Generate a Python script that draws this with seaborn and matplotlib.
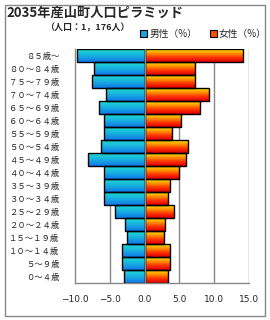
import numpy as np
import pandas as pd
import matplotlib
matplotlib.use("Agg")
import matplotlib.pyplot as plt
from matplotlib.colors import LinearSegmentedColormap
from matplotlib.patches import Patch, Rectangle
import seaborn as sns

# Data
ages = ["８５歳～", "８０～８４歳", "７５～７９歳", "７０～７４歳", "６５～６９歳",
        "６０～６４歳", "５５～５９歳", "５０～５４歳", "４５～４９歳", "４０～４４歳",
        "３５～３９歳", "３０～３４歳", "２５～２９歳", "２０～２４歳", "１５～１９歳",
        "１０～１４歳", "５～９歳", "０～４歳"]
male = [9.7, 7.3, 7.5, 5.6, 6.6, 5.9, 5.9, 6.2, 8.2, 5.8,
        5.8, 5.8, 4.2, 2.8, 2.5, 3.3, 3.3, 3.0]
female = [14.2, 7.2, 7.2, 9.2, 7.9, 5.3, 3.9, 6.3, 5.9, 4.9,
          3.6, 3.3, 4.2, 2.9, 2.8, 3.6, 3.6, 3.3]
xticks = [-10, -5, 0, 5, 10, 15]
xtick_labels = ["−10.0", "−5.0", "0.0", "5.0", "10.0", "15.0"]

title = "2035年産山町人口ピラミッド"
subtitle = "（人口：1，176人）"
legend_labels = ["男性（%）", "女性（%）"]

df = pd.DataFrame({"age": ages, "male": [-v for v in male], "female": female})

sns.set_style("white")
plt.rcParams['font.family'] = ['Noto Sans CJK JP', 'DejaVu Sans']

fig = plt.figure(figsize=(2.7, 3.2), dpi=100)
ax = fig.add_axes([75 / 270, 1 - 283 / 320, 174 / 270, 234 / 320])

sns.barplot(data=df, x="male", y="age", order=ages, orient="h", width=1.0,
            color="#18a8e0", ax=ax, zorder=2)
n_male = len(ax.patches)
sns.barplot(data=df, x="female", y="age", order=ages, orient="h", width=1.0,
            color="#ff6000", ax=ax, zorder=2)

# gradient fills clipped to the bars
cmap_m = LinearSegmentedColormap.from_list("m", ["#20dcd0", "#18b0e0", "#1078e8"])
cmap_f = LinearSegmentedColormap.from_list("f", ["#ffe800", "#ff9000", "#ff3000", "#d80000"])
grad = np.linspace(0, 1, 64).reshape(-1, 1)
for i, p in enumerate(list(ax.patches)):
    x0, y0 = p.get_x(), p.get_y()
    x1, y1 = x0 + p.get_width(), y0 + p.get_height()
    cmap = cmap_m if i < n_male else cmap_f
    im = ax.imshow(grad, cmap=cmap, aspect="auto", origin="upper",
                   extent=(min(x0, x1), max(x0, x1), y1, y0), zorder=2.5)
    im.set_clip_path(p)
    p.set_facecolor("none")
    p.set_edgecolor("black")
    p.set_linewidth(1.0)
    p.set_zorder(3)

ax.set_xlim(-10, 15)
ax.set_ylim(len(ages) - 0.5, -0.5)

for v in [-5, 0, 5, 10, 15]:
    ax.axvline(v, color="#888888", lw=1.0, zorder=1 if v != 0 else 4)

ax.set_xticks(xticks)
ax.set_xticklabels(xtick_labels, fontsize=6.5, family="DejaVu Sans")
ax.tick_params(axis="x", length=0, pad=9)
ax.tick_params(axis="y", length=0, pad=11, labelsize=6)
ax.set_xlabel("")
ax.set_ylabel("")
for side in ["top", "right"]:
    ax.spines[side].set_visible(False)
for side in ["left", "bottom"]:
    ax.spines[side].set_color("#888888")
    ax.spines[side].set_linewidth(1.0)

# titles
fig.text(6 / 270, 1 - 13 / 320, title, fontsize=9.5, fontweight="bold", va="center", ha="left")
fig.text(45 / 270, 1 - 28 / 320, subtitle, fontsize=6.5, fontweight="bold", va="center", ha="left")

handles = [Patch(facecolor="#18a8e0", edgecolor="black", lw=0.8),
           Patch(facecolor="#ff5000", edgecolor="black", lw=0.8)]
fig.legend(handles, legend_labels, ncol=2, loc="center left",
           bbox_to_anchor=(140 / 270, 1 - 34 / 320), frameon=False,
           fontsize=7, handlelength=0.7, handleheight=0.6, handletextpad=0.25,
           columnspacing=1.3, borderpad=0, borderaxespad=0)

fig.patches.append(Rectangle((5 / 270, 4 / 320), 260 / 270, 311 / 320,
                             transform=fig.transFigure, fill=False,
                             edgecolor="#888888", lw=1.0))

plt.savefig("out.png", dpi=100)
